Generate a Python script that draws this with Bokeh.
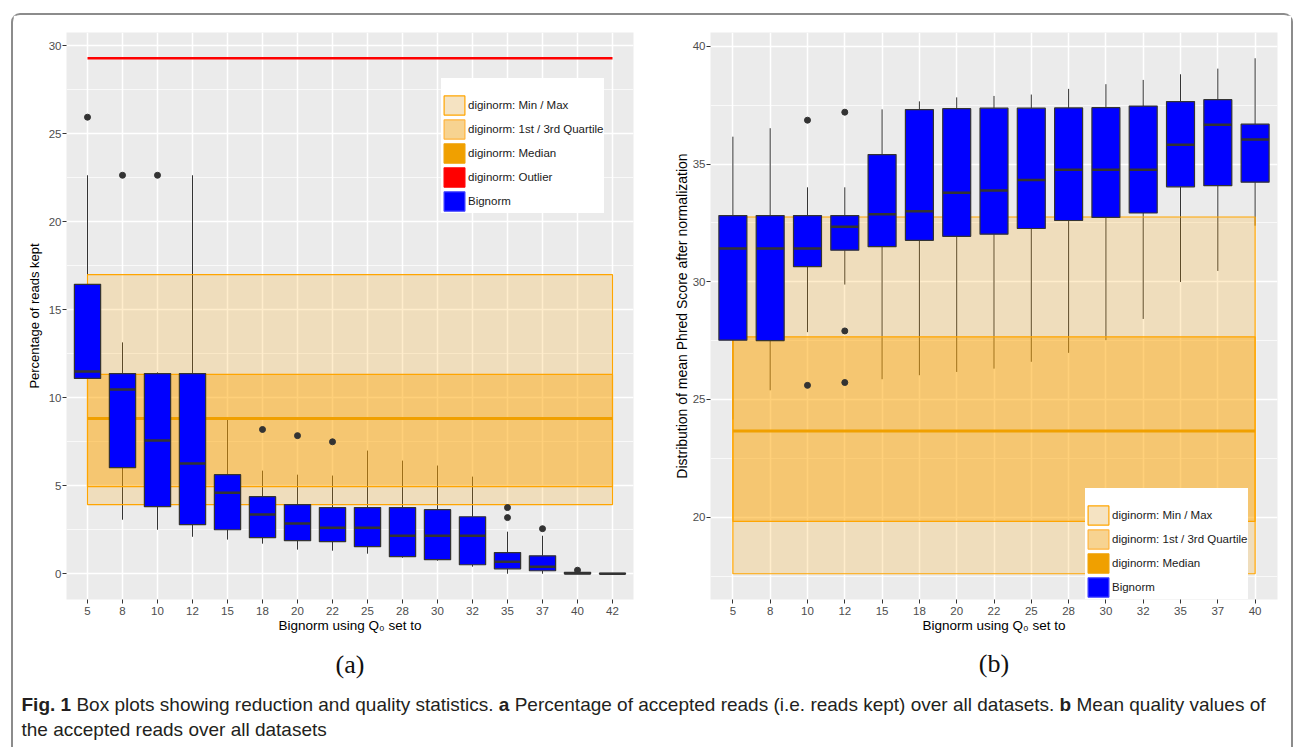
from bokeh.plotting import figure
from bokeh.models import (FactorRange, Range1d, ColumnDataSource, Legend, LegendItem,
                          SingleIntervalTicker)
from bokeh.layouts import column, row
from bokeh.transform import dodge
from bokeh.embed import file_html
from bokeh.resources import INLINE
from bokeh.core.properties import value

# ------------------------------------------------------------------ data (a)
cats_a = ["5", "8", "10", "12", "15", "18", "20", "22", "25", "28", "30", "32", "35", "37", "40", "42"]
lower_a = [5.9, 3.07, 2.5, 2.1, 1.94, 1.71, 1.37, 1.31, 1.14, 0.91, 0.74, 0.4, 0.0, 0.0, 0.0, 0.0]
q1_a = [11.1, 6.03, 3.81, 2.79, 2.5, 2.05, 1.88, 1.82, 1.54, 0.97, 0.8, 0.51, 0.28, 0.17, 0.0, 0.0]
med_a = [11.5, 10.47, 7.57, 6.26, 4.61, 3.36, 2.85, 2.62, 2.62, 2.16, 2.16, 2.16, 0.68, 0.4, 0.02, 0.0]
q3_a = [16.45, 11.38, 11.38, 11.38, 5.63, 4.38, 3.93, 3.76, 3.76, 3.76, 3.64, 3.24, 1.2, 1.02, 0.08, 0.02]
upper_a = [22.65, 13.15, 11.45, 22.65, 8.76, 5.86, 5.63, 5.58, 7.0, 6.43, 6.15, 5.52, 2.39, 2.16, 0.14, 0.02]
out_cat_a = ["5", "8", "10", "18", "20", "22", "35", "35", "37", "40"]
out_val_a = [25.95, 22.65, 22.65, 8.2, 7.85, 7.5, 3.76, 3.19, 2.56, 0.2]
# diginorm: min, 1st quartile, median, 3rd quartile, max
diginorm_a = [3.93, 4.95, 8.82, 11.33, 17.0]
diginorm_a_outlier = 29.3

# ------------------------------------------------------------------ data (b)
cats_b = ["5", "8", "10", "12", "15", "18", "20", "22", "25", "28", "30", "32", "35", "37", "40"]
lower_b = [24.15, 25.39, 27.86, 29.88, 25.86, 26.03, 26.17, 26.31, 26.6, 26.98, 27.52, 28.42, 29.99, 30.46, 32.38]
q1_b = [27.52, 27.5, 30.64, 31.34, 31.49, 31.76, 31.93, 32.02, 32.26, 32.6, 32.73, 32.92, 34.03, 34.08, 34.23]
med_b = [31.41, 31.41, 31.41, 32.34, 32.87, 32.99, 33.78, 33.87, 34.32, 34.76, 34.76, 34.76, 35.82, 36.67, 36.04]
q3_b = [32.81, 32.81, 32.81, 32.81, 35.4, 37.31, 37.35, 37.37, 37.37, 37.38, 37.39, 37.46, 37.65, 37.73, 36.69]
upper_b = [36.16, 36.52, 34.01, 34.01, 37.32, 37.66, 37.83, 37.89, 37.95, 38.19, 38.39, 38.57, 38.81, 39.05, 39.49]
out_cat_b = ["10", "10", "12", "12", "12"]
out_val_b = [36.86, 25.6, 37.2, 27.91, 25.72]
diginorm_b = [17.6, 19.82, 23.66, 27.66, 32.75]

ylabel_a = "Percentage of reads kept"
ylabel_b = "Distribution of mean Phred Score after normalization"
xlabel = "Bignorm using Q\u2080 set to"
legend_labels = ["diginorm: Min / Max", "diginorm: 1st / 3rd Quartile", "diginorm: Median",
                 "diginorm: Outlier", "Bignorm"]
sub_labels = ["(a)", "(b)"]
caption_line1 = [("Fig. 1", True),
                 ("Box plots showing reduction and quality statistics.", False),
                 ("a", True),
                 ("Percentage of accepted reads (i.e. reads kept) over all datasets.", False),
                 ("b", True),
                 ("Mean quality values of", False)]
caption_line2 = [("the accepted reads over all datasets", False)]

# ------------------------------------------------------------------ layout constants
FONT = "Liberation Sans"
ORIGIN_X, ORIGIN_Y = 13, 15          # page position of layout content (inside the frame border)
PANEL_H = 633
MB_TOP, MB_BOTTOM = 17, 49
CAP_H = 99
TOTAL_W = 1278
GREY_BG = "#EBEBEB"
DARK = "#333333"
NAN = float("nan")


def make_panel(cats, lower, q1, med, q3, upper, out_cat, out_val, dig, dig_out, ylabel,
               width, mb_left, mb_right, ylab_standoff, ylab_size, legend_xy):
    vals = lower + upper + out_val + dig + ([dig_out] if dig_out is not None else [])
    lo, hi = min(vals), max(vals)
    pad = 0.05 * (hi - lo)
    p = figure(width=width, height=PANEL_H,
               x_range=FactorRange(factors=cats, range_padding=0.1, range_padding_units="absolute"),
               y_range=Range1d(lo - pad, hi + pad),
               output_backend="svg", toolbar_location=None, tools="",
               min_border_left=mb_left, min_border_right=mb_right,
               min_border_top=MB_TOP, min_border_bottom=MB_BOTTOM,
               background_fill_color=GREY_BG, border_fill_color="white",
               outline_line_color=None)

    ticker = SingleIntervalTicker(interval=5, num_minor_ticks=2)
    p.yaxis.ticker = ticker
    p.ygrid.ticker = ticker
    p.ygrid.grid_line_color = "white"
    p.ygrid.grid_line_width = 1.5
    p.ygrid.minor_grid_line_color = "white"
    p.ygrid.minor_grid_line_width = 0.7
    p.xgrid.grid_line_color = "white"
    p.xgrid.grid_line_width = 1.5

    for ax in (p.xaxis[0], p.yaxis[0]):
        ax.axis_line_color = None
        ax.major_tick_line_color = DARK
        ax.major_tick_line_width = 1
        ax.major_tick_out = 4
        ax.major_tick_in = 0
        ax.minor_tick_line_color = None
        ax.major_label_text_font = FONT
        ax.major_label_text_font_size = "11.5px"
        ax.major_label_text_color = "#4d4d4d"
        ax.axis_label_text_font = FONT
        ax.axis_label_text_font_size = "13.5px"
        ax.axis_label_text_font_style = "normal"
        ax.axis_label_text_color = "black"
    p.yaxis.axis_label_text_font_size = ylab_size
    p.yaxis.major_label_standoff = 1
    p.xaxis.major_label_standoff = 3
    p.yaxis.axis_label = ylabel
    p.xaxis.axis_label = xlabel
    p.yaxis.axis_label_standoff = ylab_standoff
    p.xaxis.axis_label_standoff = 0

    src = ColumnDataSource(dict(cat=cats, lower=lower, q1=q1, med=med, q3=q3, upper=upper))
    # whiskers
    p.segment(x0="cat", y0="q3", x1="cat", y1="upper", source=src, line_color=DARK, line_width=1)
    p.segment(x0="cat", y0="q1", x1="cat", y1="lower", source=src, line_color=DARK, line_width=1)

    dmin, dq1, dmed, dq3, dmax = dig
    # diginorm bands
    p.quad(left=[cats[0]], right=[cats[-1]], bottom=[dmin], top=[dmax],
           fill_color="orange", fill_alpha=0.2, line_color="orange", line_width=1.2)
    p.quad(left=[cats[0]], right=[cats[-1]], bottom=[dq1], top=[dq3],
           fill_color="orange", fill_alpha=0.4, line_color="orange", line_width=1.2)
    p.segment(x0=[cats[0]], x1=[cats[-1]], y0=[dmed], y1=[dmed], line_color="#f0a000", line_width=3)
    if dig_out is not None:
        p.segment(x0=[cats[0]], x1=[cats[-1]], y0=[dig_out], y1=[dig_out], line_color="red", line_width=2.5)

    # boxes
    p.vbar(x="cat", width=0.75, bottom="q1", top="q3", source=src,
           fill_color="blue", line_color=DARK, line_width=1.2)
    p.segment(x0=dodge("cat", -0.375, range=p.x_range), x1=dodge("cat", 0.375, range=p.x_range),
              y0="med", y1="med", source=src, line_color=DARK, line_width=2.5)
    osrc = ColumnDataSource(dict(cat=out_cat, val=out_val))
    p.scatter(x="cat", y="val", source=osrc, size=6, fill_color=DARK, line_color=DARK)

    # legend-only renderers (nothing drawn in the panel: NaN extent);
    # key colours are blended on ggplot's grey key background
    def key(fill, line):
        return p.quad(left=[cats[0]], right=[cats[0]], top=[NAN], bottom=[NAN],
                      fill_color=fill, line_color=line, line_width=1.2)

    keys = [key("#f5e3c2", "#ffa500"), key("#f7d391", "#ffb43c"), key("#f0a000", "#f0a000")]
    labels = legend_labels[:3]
    if dig_out is not None:
        keys.append(key("red", "red"))
        labels.append(legend_labels[3])
    keys.append(key("blue", "#3b3bff"))
    labels.append(legend_labels[4])

    legend = Legend(items=[LegendItem(label=l, renderers=[r]) for l, r in zip(labels, keys)],
                    location=legend_xy, title=" ", title_text_font_size="11px", title_standoff=3,
                    padding=4, spacing=-2, glyph_width=26, glyph_height=24, label_height=20,
                    label_standoff=1, label_text_font=FONT, label_text_font_size="11.5px",
                    label_text_color="#1a1a1a", border_line_color=None,
                    background_fill_color="white", background_fill_alpha=1.0, margin=0)
    p.add_layout(legend)
    return p


# panel geometry (page coordinates): frames at x 66-633 and 710-1277, y 32-599
W_A = 650 - ORIGIN_X
W_B = TOTAL_W - W_A
pa = make_panel(cats_a, lower_a, q1_a, med_a, q3_a, upper_a, out_cat_a, out_val_a,
                diginorm_a, diginorm_a_outlier, ylabel_a,
                width=W_A, mb_left=66 - ORIGIN_X, mb_right=W_A - (66 - ORIGIN_X) - 567,
                ylab_standoff=4, ylab_size="13px", legend_xy=(375, 386))
pb = make_panel(cats_b, lower_b, q1_b, med_b, q3_b, upper_b, out_cat_b, out_val_b,
                diginorm_b, None, ylabel_b,
                width=W_B, mb_left=710 - 650, mb_right=W_B - 60 - 567,
                ylab_standoff=0, ylab_size="14px", legend_xy=(375, 0))

# ------------------------------------------------------------------ caption figure
cap_top = ORIGIN_Y + PANEL_H
cap = figure(width=TOTAL_W, height=CAP_H, x_range=Range1d(ORIGIN_X, ORIGIN_X + TOTAL_W),
             y_range=Range1d(cap_top + CAP_H, cap_top), x_axis_type=None, y_axis_type=None,
             output_backend="svg", toolbar_location=None, tools="", min_border=0,
             background_fill_color="white", border_fill_color="white", outline_line_color=None)

frame_centers = [(66 + 633) / 2, (710 + 1277) / 2]
cap.text(x=frame_centers, y=[cap_top + 16, cap_top + 15], text=sub_labels,
         text_font=value("Liberation Serif"), text_font_size="26px",
         text_align="center", text_baseline="middle", text_color="#111111")

W_REG = {' ': 278, '.': 278, '(': 333, ')': 333, 'B': 667, 'M': 833, 'P': 667, 'a': 556, 'b': 556,
         'c': 500, 'd': 556, 'e': 556, 'f': 278, 'g': 556, 'h': 556, 'i': 222, 'k': 500, 'l': 222,
         'm': 833, 'n': 556, 'o': 556, 'p': 556, 'q': 556, 'r': 333, 's': 500, 't': 278, 'u': 556,
         'v': 500, 'w': 722, 'x': 500, 'y': 500, 'z': 500}
W_BOLD = {' ': 278, '.': 278, 'F': 611, 'i': 278, 'g': 611, '1': 556, 'a': 556, 'b': 611}
CAP_SIZE = 19


def text_width(s, bold):
    table = W_BOLD if bold else W_REG
    return sum(table.get(ch, 556) for ch in s) * CAP_SIZE / 1000.0


reg = dict(x=[], y=[], t=[])
bold = dict(x=[], y=[], t=[])
for line, ymid in ((caption_line1, cap_top + 56), (caption_line2, cap_top + 81)):
    x = 21
    for txt, is_bold in line:
        d = bold if is_bold else reg
        d["x"].append(x)
        d["y"].append(ymid)
        d["t"].append(txt)
        x += text_width(txt, is_bold) + 278 * CAP_SIZE / 1000.0

cap.text(x=reg["x"], y=reg["y"], text=reg["t"], text_font=value(FONT),
         text_font_size=f"{CAP_SIZE}px", text_baseline="middle", text_align="left",
         text_color="#231f20")
cap.text(x=bold["x"], y=bold["y"], text=bold["t"], text_font=value(FONT),
         text_font_size=f"{CAP_SIZE}px", text_font_style="bold", text_baseline="middle",
         text_align="left", text_color="#231f20")

BORDER = "2px solid #8c8c8c"
layout = column(row(pa, pb), cap, margin=(13, 0, 0, 11),
                styles={"border-top": BORDER, "border-left": BORDER, "border-right": BORDER,
                        "border-radius": "9px 9px 0 0"})

open("out.html", "w").write(file_html(layout, INLINE))
